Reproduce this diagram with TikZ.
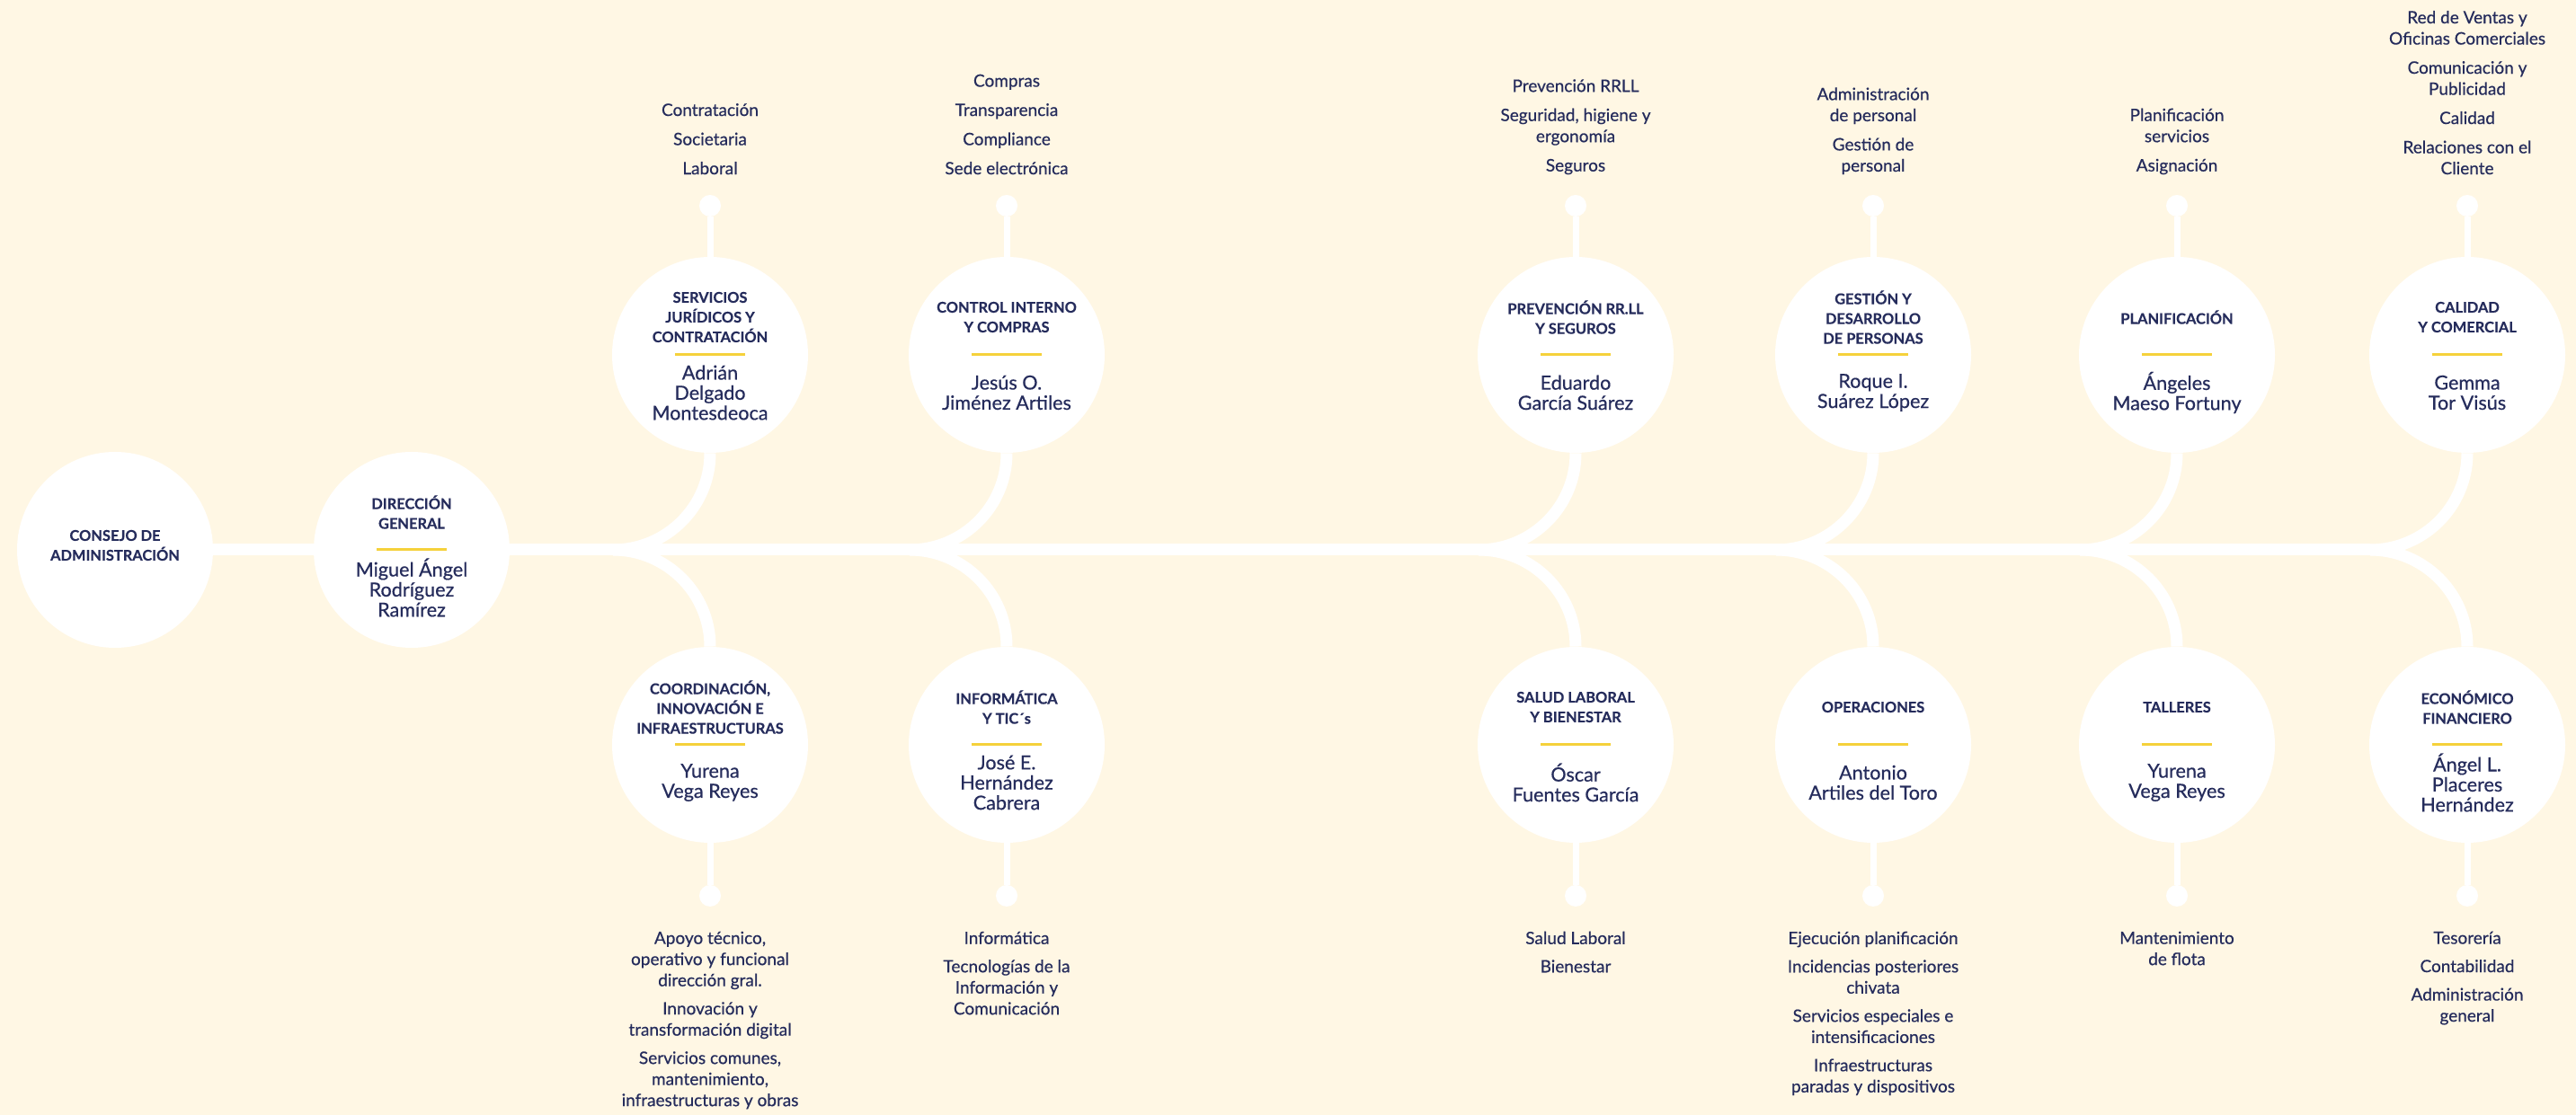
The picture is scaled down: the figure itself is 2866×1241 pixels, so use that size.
\documentclass[tikz,border=0pt]{standalone}
\usepackage{fontspec}
\setmainfont{Lato}
\newfontfamily\midfont{Lato}[FakeBold=0.5]
\newfontfamily\headfont{Lato}[FakeBold=0.4]
\usetikzlibrary{positioning}

\definecolor{cream}{HTML}{FFF7E4}
\definecolor{navy}{HTML}{252C5C}
\definecolor{gold}{HTML}{F5D13B}

\pgfdeclarelayer{back}
\pgfsetlayers{back,main}

\begin{document}
\begin{tikzpicture}[x=0.5pt,y=0.5pt,
	unit/.style={circle,fill=white,inner sep=0pt,minimum size=109pt},
	head/.style={align=center,text=navy,inner sep=0pt,font=\fontsize{8.2}{11}\headfont\bfseries},
	who/.style={align=center,text=navy,inner sep=0pt,font=\fontsize{10.8}{11.2}\midfont},
	task/.style={align=center,text=navy,inner sep=0pt,font=\fontsize{9.5}{11.75}\midfont},
	knob/.style={circle,fill=white,inner sep=0pt,minimum size=12pt},
	trunk/.style={white,line width=6.5pt},
	stem/.style={white,line width=3.5pt},
	bar/.style={gold,line width=1.5pt}]

\useasboundingbox (0,0) rectangle (2866,1241);

\node [unit] (cons) at (128,629) {};
\node [head] (cons-h) at ([yshift=2.5pt]cons.center) {CONSEJO DE\\ADMINISTRACIÓN};

\node [unit] (dir) at (458,629) {};
\node [head] (dir-h) at ([yshift=21pt]dir.center) {DIRECCIÓN\\GENERAL};
\draw [bar] ([xshift=-19.5pt]dir.center) to ([xshift=19.5pt]dir.center);
\node [who] (dir-w) at ([yshift=-21pt]dir.center) {Miguel Ángel\\Rodríguez\\Ramírez};

\foreach \i/\x in {1/790,2/1120,3/1753,4/2084,5/2422,6/2745} {
	\coordinate (j\i) at (\x-108,629);
	\node [unit] (c\i-1) at (\x,846) {};
	\node [unit] (c\i-0) at (\x,412) {};
	\node [knob] (p\i-1) at (\x,1012) {};
	\node [knob] (p\i-0) at (\x,244) {};
	\foreach \y in {0,1} {
		\draw [bar] ([xshift=-19.5pt]c\i-\y.center) to ([xshift=19.5pt]c\i-\y.center);
	}
}

\foreach \i/\h/\w in {
	1/{SERVICIOS\\JURÍDICOS Y\\CONTRATACIÓN}/{Adrián\\Delgado\\Montesdeoca},
	2/{CONTROL INTERNO\\Y COMPRAS}/{Jesús O.\\Jiménez Artiles},
	3/{PREVENCIÓN RR.LL\\Y SEGUROS}/{Eduardo\\García Suárez},
	4/{GESTIÓN Y\\DESARROLLO\\DE PERSONAS}/{Roque I.\\Suárez López},
	5/{PLANIFICACIÓN}/{Ángeles\\Maeso Fortuny},
	6/{CALIDAD\\Y COMERCIAL}/{Gemma\\Tor Visús}} {
	\node [head] (h\i-1) at ([yshift=21pt]c\i-1.center) {\h};
	\node [who] (w\i-1) at ([yshift=-21pt]c\i-1.center) {\w};
}

\foreach \i/\h/\w in {
	1/{COORDINACIÓN,\\INNOVACIÓN E\\INFRAESTRUCTURAS}/{Yurena\\Vega Reyes},
	2/{INFORMÁTICA\\Y TIC´s}/{José E.\\Hernández\\Cabrera},
	3/{SALUD LABORAL\\Y BIENESTAR}/{Óscar\\Fuentes García},
	4/{OPERACIONES}/{Antonio\\Artiles del Toro},
	5/{TALLERES}/{Yurena\\Vega Reyes},
	6/{ECONÓMICO\\FINANCIERO}/{Ángel L.\\Placeres\\Hernández}} {
	\node [head] (h\i-0) at ([yshift=21pt]c\i-0.center) {\h};
	\node [who] (w\i-0) at ([yshift=-21pt]c\i-0.center) {\w};
}

\foreach \i/\t in {
	1/{Contratación\\[4.5pt]Societaria\\[4.5pt]Laboral},
	2/{Compras\\[4.5pt]Transparencia\\[4.5pt]Compliance\\[4.5pt]Sede electrónica},
	3/{Prevención RRLL\\[4.5pt]Seguridad, higiene y\\ergonomía\\[4.5pt]Seguros},
	4/{Administración\\de personal\\[4.5pt]Gestión de\\personal},
	5/{Planificación\\servicios\\[4.5pt]Asignación},
	6/{Red de Ventas y\\Oficinas Comerciales\\[4.5pt]Comunicación y\\Publicidad\\[4.5pt]Calidad\\[4.5pt]Relaciones con el\\Cliente}} {
	\node [task,above=11pt of p\i-1] (t\i-1) {\t};
}

\foreach \i/\t in {
	1/{Apoyo técnico,\\operativo y funcional\\dirección gral.\\[4pt]Innovación y\\transformación digital\\[4pt]Servicios comunes,\\mantenimiento,\\infraestructuras y obras},
	2/{Informática\\[4pt]Tecnologías de la\\Información y\\Comunicación},
	3/{Salud Laboral\\[4pt]Bienestar},
	4/{Ejecución planificación\\[4pt]Incidencias posteriores\\chivata\\[4pt]Servicios especiales e\\intensificaciones\\[4pt]Infraestructuras\\paradas y dispositivos},
	5/{Mantenimiento\\de flota},
	6/{Tesorería\\[4pt]Contabilidad\\[4pt]Administración\\general}} {
	\node [task,below=13.5pt of p\i-0] (t\i-0) {\t};
}

\begin{pgfonlayer}{back}
	\fill [cream] (0,0) rectangle (2866,1241);
	\draw [trunk] (cons) to (j6);
	\foreach \i in {1,...,6} {
		\draw [trunk] (j\i) to [out=0,in=-90] (c\i-1);
		\draw [trunk] (j\i) to [out=0,in=90] (c\i-0);
		\draw [stem] (c\i-1) to (p\i-1);
		\draw [stem] (c\i-0) to (p\i-0);
	}
\end{pgfonlayer}

\end{tikzpicture}
\end{document}
